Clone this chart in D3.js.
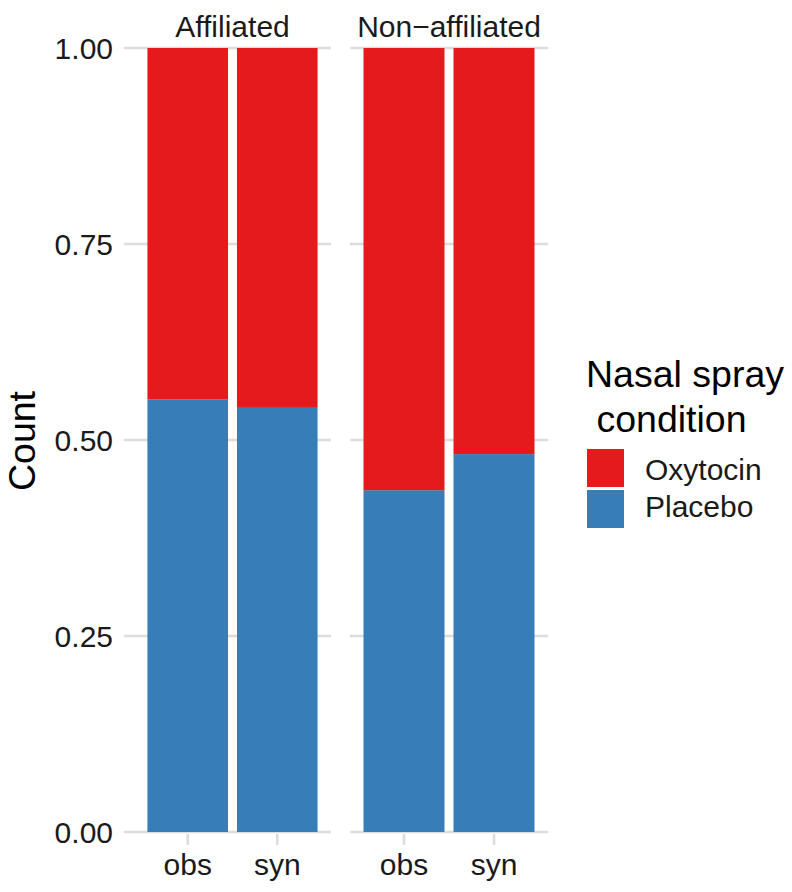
<!DOCTYPE html>
<html><head><meta charset="utf-8">
<script src="https://cdn.jsdelivr.net/npm/d3@7"></script>
<style>body{margin:0;background:#fff}text{font-family:"Liberation Sans",Arial,sans-serif}</style>
</head><body>
<svg id="c" width="792" height="892"></svg>
<script>
const facets = ["Affiliated", "Non\u2212affiliated"];
const sources = ["obs", "syn"];
const conditions = ["Oxytocin", "Placebo"];
const colors = ["#E41A1C", "#377EB8"];
// Placebo proportion per facet (obs, syn)
const placeboAffiliated = [0.552, 0.541];
const placeboNonAffiliated = [0.436, 0.482];
const yTicks = [0, 0.25, 0.5, 0.75, 1.0];

const placeboByFacet = [placeboAffiliated, placeboNonAffiliated];
const svg = d3.select("#c");
const plotTop = 48, plotBottom = 832;
const panels = [[134, 331], [350, 548]];
const y = d3.scaleLinear().domain([0, 1]).range([plotBottom, plotTop]);
const grid = "#dcdcdc";
const txt = "#1a1a1a";

// y tick labels and ticks
const gy = svg.append("g");
yTicks.forEach(t => {
  gy.append("line").attr("x1", 124).attr("x2", 134).attr("y1", y(t)).attr("y2", y(t))
    .attr("stroke", grid).attr("stroke-width", 2.5);
  gy.append("text").attr("x", 113).attr("y", y(t)).attr("dy", "0.36em").attr("text-anchor", "end")
    .attr("font-size", 30).attr("fill", txt).text(d3.format(".2f")(t));
});

facets.forEach((f, i) => {
  const [x0, x1] = panels[i];
  // positions 1,2 with expansion 0.6; bar width 0.9
  const xl = d3.scaleLinear().domain([0.4, 2.6]).range([x0, x1]);
  const g = svg.append("g");
  yTicks.forEach(t => {
    g.append("line").attr("x1", x0).attr("x2", x1).attr("y1", y(t)).attr("y2", y(t))
      .attr("stroke", grid).attr("stroke-width", 2.5);
  });
  sources.forEach((s, j) => {
    const c = j + 1;
    const p = placeboByFacet[i][j];
    const bx = xl(c - 0.45), bw = xl(c + 0.45) - xl(c - 0.45);
    g.append("rect").attr("x", bx).attr("y", y(p)).attr("width", bw).attr("height", y(0) - y(p)).attr("fill", colors[1]);
    g.append("rect").attr("x", bx).attr("y", y(1)).attr("width", bw).attr("height", y(p) - y(1)).attr("fill", colors[0]);
    g.append("line").attr("x1", xl(c)).attr("x2", xl(c)).attr("y1", plotBottom + 2).attr("y2", plotBottom + 13)
      .attr("stroke", grid).attr("stroke-width", 2.5);
    g.append("text").attr("x", xl(c)).attr("y", 875).attr("text-anchor", "middle")
      .attr("font-size", 30).attr("fill", txt).text(s);
  });
  g.append("text").attr("x", (x0 + x1) / 2).attr("y", 37).attr("text-anchor", "middle")
    .attr("font-size", 30).attr("fill", txt).text(f);
});

// y title
svg.append("text").attr("transform", "translate(35,441) rotate(-90)").attr("text-anchor", "middle")
  .attr("font-size", 37.5).attr("fill", "#000").text("Count");

// legend
const lg = svg.append("g");
lg.append("text").attr("x", 586).attr("y", 387).attr("font-size", 37.5).attr("fill", "#000").text("Nasal spray");
lg.append("text").attr("x", 586).attr("y", 432).attr("font-size", 37.5).attr("fill", "#000").text("\u00a0condition");
conditions.forEach((c, k) => {
  lg.append("rect").attr("x", 587).attr("y", 449 + k * 41).attr("width", 37).attr("height", 38).attr("fill", colors[k]);
  lg.append("text").attr("x", 645).attr("y", 480 + k * 37).attr("font-size", 30).attr("fill", txt).text(c);
});
</script>
</body></html>
